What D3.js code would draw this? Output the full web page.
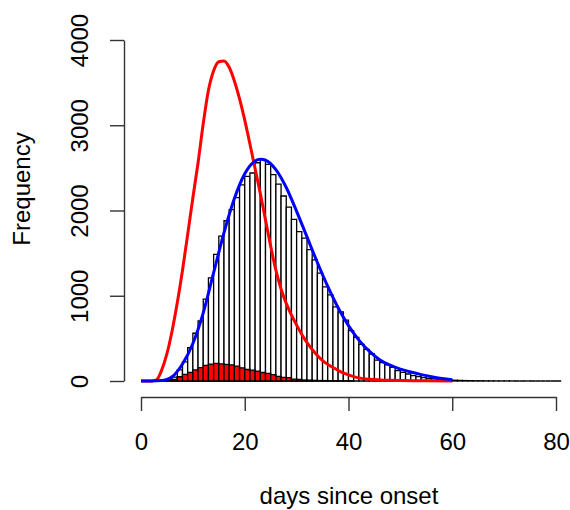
<!DOCTYPE html>
<html>
<head>
<meta charset="utf-8">
<script src="https://cdn.jsdelivr.net/npm/d3@7"></script>
<style>
  body { margin: 0; background: #fff; }
  svg { display: block; font-family: "Liberation Sans", Arial, sans-serif; }
</style>
</head>
<body>
<div id="chart"></div>
<script>
'use strict';

// histogram bins (1 day wide), counts
const binStarts = d3.range(0, 81);
const allCounts = [
  0, 0, 0, 3, 10, 20, 45, 130, 225, 390,
  560, 705, 960, 1210, 1486, 1700, 1880, 2010, 2150, 2300,
  2400, 2440, 2560, 2600, 2540, 2420, 2310, 2170, 2040, 1895,
  1752, 1675, 1540, 1420, 1265, 1105, 1010, 870, 810, 715,
  590, 512, 430, 372, 317, 246, 215, 188, 160, 121,
  102, 82, 62, 51, 39, 31, 25, 20, 15, 12,
  9, 7, 5, 4, 3, 3, 2, 2, 1, 1,
  1, 1, 0, 0, 1, 0, 0, 0, 0, 0, 0
];
const redCounts = [
  0, 0, 0, 2, 5, 10, 20, 50, 78, 102,
  130, 156, 184, 198, 207, 200, 195, 190, 175, 155,
  135, 128, 115, 100, 90, 75, 55, 43, 40, 22,
  18, 12, 10, 8, 6, 5, 4, 3, 2, 2,
  1, 0, 0, 0, 0, 0, 0, 0, 0, 0,
  0, 0, 0, 0, 0, 0, 0, 0, 0, 0,
  0, 0, 0, 0, 0, 0, 0, 0, 0, 0,
  0, 0, 0, 0, 0, 0, 0, 0, 0, 0, 0
];

// fitted curves
const redDays = [0, 1, 2, 3, 4, 5, 6, 7, 8, 9, 10, 11, 12, 13, 14, 15, 16, 17, 18, 19,
  20, 21, 22, 23, 24, 25, 26, 27, 28, 29, 30, 31, 32, 33, 34, 35, 36, 37, 38, 39,
  40, 41, 42, 44, 46, 48, 50, 55, 60];
const redValues = [0, 0, 0, 15, 130, 320, 590, 920, 1300, 1720, 2150, 2560, 3020, 3410, 3640, 3745, 3755, 3680, 3520, 3310,
  3060, 2780, 2490, 2200, 1890, 1580, 1300, 1080, 910, 775, 655, 545, 450, 370, 300, 240, 195, 158, 125, 95,
  72, 52, 37, 21, 13, 8, 5, 2, 0];

const blueDays = [0, 2, 4, 5, 6, 8, 10, 12, 14, 16, 18, 20, 22, 23, 24, 26, 28, 30, 32, 34,
  36, 38, 40, 42, 44, 46, 48, 50, 52, 54, 56, 58, 60];
const blueValues = [0, 0, 5, 20, 50, 200, 440, 800, 1270, 1740, 2140, 2430, 2580, 2600, 2590, 2480, 2270, 1990, 1690, 1390,
  1110, 860, 650, 480, 350, 250, 185, 140, 105, 75, 50, 30, 15];

const xTicks = [0, 20, 40, 60, 80];
const yTicks = [0, 1000, 2000, 3000, 4000];

const width = 570;
const height = 510;
const fontSize = 24;

const svg = d3.select('#chart').append('svg')
  .attr('width', width)
  .attr('height', height);

const x = d3.scaleLinear().domain([0, 80]).range([141, 556]);
const y = d3.scaleLinear().domain([0, 4000]).range([381, 40]);

function barPath(d0, v) {
  return `M${x(d0)},${y(0)}V${y(v)}H${x(d0 + 1)}V${y(0)}Z`;
}

// grey histogram
svg.append('g')
  .selectAll('path')
  .data(binStarts)
  .enter()
  .append('path')
  .attr('d', (d, i) => barPath(d, allCounts[i]))
  .attr('fill', '#fff')
  .attr('stroke', '#000')
  .attr('stroke-width', 1.3);

// red histogram
svg.append('g')
  .selectAll('path')
  .data(binStarts.filter((d, i) => redCounts[i] > 0))
  .enter()
  .append('path')
  .attr('d', d => barPath(d, redCounts[d]))
  .attr('fill', '#ff0000')
  .attr('stroke', '#000')
  .attr('stroke-width', 1.3);

const line = d3.line()
  .x(d => x(d[0]))
  .y(d => y(d[1]))
  .curve(d3.curveMonotoneX);

svg.append('path')
  .attr('d', line(d3.zip(redDays, redValues)))
  .attr('fill', 'none')
  .attr('stroke', '#ff0000')
  .attr('stroke-width', 3);

svg.append('path')
  .attr('d', line(d3.zip(blueDays, blueValues)))
  .attr('fill', 'none')
  .attr('stroke', '#0000ff')
  .attr('stroke-width', 3);

// axes
const xAxis = svg.append('g')
  .attr('transform', 'translate(0,397)')
  .call(d3.axisBottom(x).tickValues(xTicks).tickSize(14).tickSizeOuter(0));
xAxis.selectAll('text')
  .attr('y', 53)
  .attr('dy', 0)
  .attr('fill', '#000')
  .style('font-size', fontSize + 'px')
  .style('font-family', '"Liberation Sans", Arial, sans-serif');

const yAxis = svg.append('g')
  .attr('transform', 'translate(124,0)')
  .call(d3.axisLeft(y).tickValues(yTicks).tickFormat(d3.format('d')).tickSize(14).tickSizeOuter(0));
yAxis.selectAll('text')
  .attr('x', 0)
  .attr('y', 0)
  .attr('dy', 0)
  .attr('text-anchor', 'middle')
  .attr('transform', 'translate(-36,0) rotate(-90)')
  .attr('fill', '#000')
  .style('font-size', fontSize + 'px')
  .style('font-family', '"Liberation Sans", Arial, sans-serif');

svg.selectAll('.domain, .tick line')
  .attr('stroke', '#333')
  .attr('stroke-width', 1.4);

svg.append('text')
  .attr('x', 349)
  .attr('y', 504)
  .attr('text-anchor', 'middle')
  .style('font-size', fontSize + 'px')
  .text('days since onset');

svg.append('text')
  .attr('transform', 'translate(30,189) rotate(-90)')
  .attr('text-anchor', 'middle')
  .style('font-size', fontSize + 'px')
  .text('Frequency');
</script>
</body>
</html>
